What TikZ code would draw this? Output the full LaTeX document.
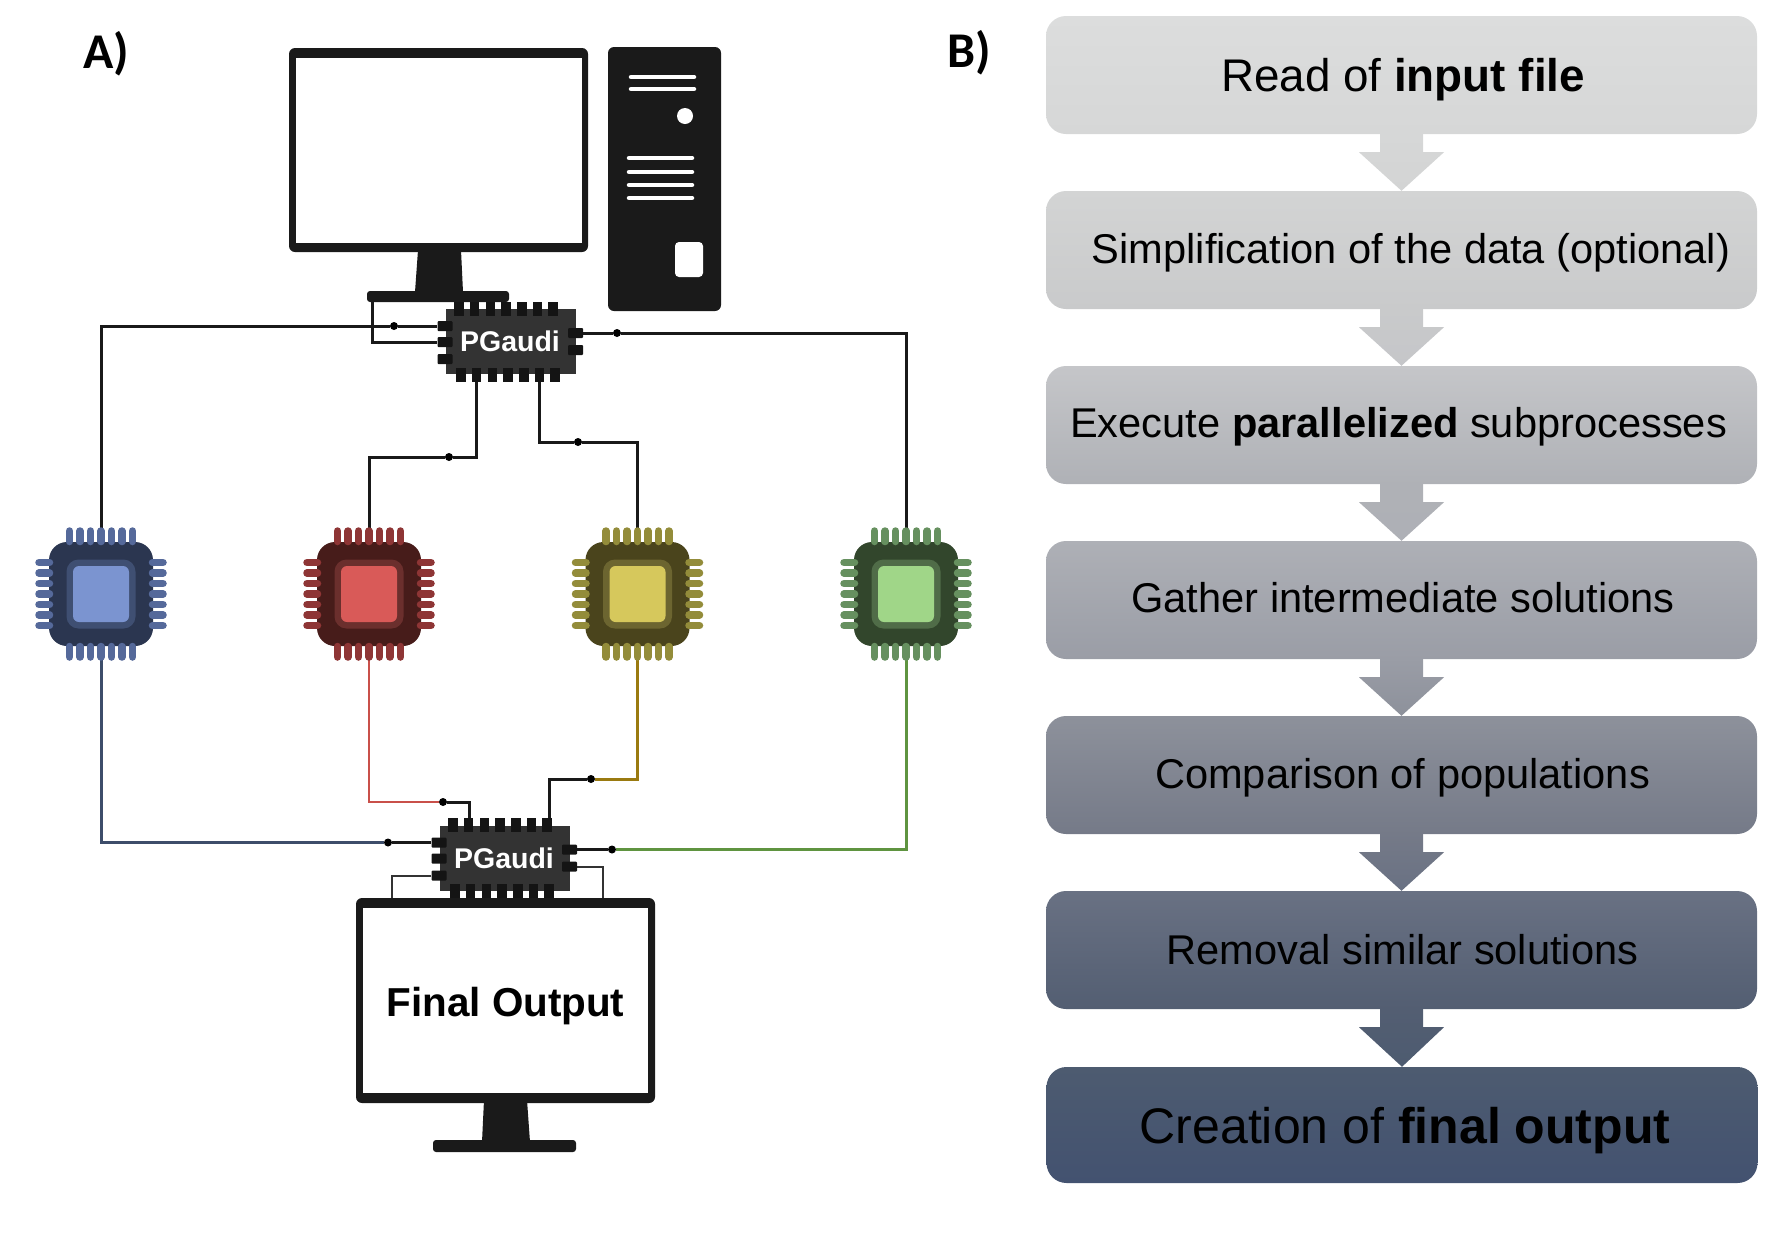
\documentclass[tikz,border=0pt]{standalone}
\usepackage{fontspec}
\setmainfont{Liberation Sans}
\newfontfamily\labelfont{Carlito}
\usetikzlibrary{calc,backgrounds}
\definecolor{screenblack}{HTML}{1A1A1A}
\definecolor{bluedark}{HTML}{2B3650}
\definecolor{bluemid}{HTML}{3F4F72}
\definecolor{bluepin}{HTML}{55699A}
\definecolor{bluelight}{HTML}{7B94D0}
\definecolor{reddark}{HTML}{471C1A}
\definecolor{redmid}{HTML}{6B2F2D}
\definecolor{redpin}{HTML}{8E3535}
\definecolor{redlight}{HTML}{D95A58}
\definecolor{yellowdark}{HTML}{4A441C}
\definecolor{yellowmid}{HTML}{6C6530}
\definecolor{yellowpin}{HTML}{938C3A}
\definecolor{yellowlight}{HTML}{D6C85C}
\definecolor{greendark}{HTML}{32462C}
\definecolor{greenmid}{HTML}{506C48}
\definecolor{greenpin}{HTML}{66905F}
\definecolor{greenlight}{HTML}{A0D688}
\definecolor{bluewire}{HTML}{3D4D6A}
\definecolor{redwire}{HTML}{C9504A}
\definecolor{yellowwire}{HTML}{9A7A10}
\definecolor{greenwire}{HTML}{5F9440}
\definecolor{readA}{HTML}{DCDDDD}\definecolor{readB}{HTML}{D6D7D7}
\definecolor{simpA}{HTML}{D3D4D4}\definecolor{simpB}{HTML}{C9CACB}
\definecolor{execA}{HTML}{C5C6C9}\definecolor{execB}{HTML}{AFB1B6}
\definecolor{gatherA}{HTML}{AEB0B6}\definecolor{gatherB}{HTML}{9A9DA6}
\definecolor{compA}{HTML}{8D919B}\definecolor{compB}{HTML}{757A88}
\definecolor{remoA}{HTML}{697183}\definecolor{remoB}{HTML}{535E72}
\definecolor{creaA}{HTML}{4D5B70}\definecolor{creaB}{HTML}{435270}
\tikzset{
	wire/.style={line width=3pt,color=black!90},
	thinwire/.style={line width=2pt,color=black!80},
	wiredot/.style={circle,fill=black,inner sep=0pt,minimum size=8pt},
	screen/.style={fill=screenblack,rounded corners=6pt,inner sep=0pt,minimum width=299pt},
	standbase/.style={fill=screenblack,rounded corners=3pt,inner sep=0pt},
	gaudibody/.style={fill=black!80,text=white,inner sep=0pt,minimum width=130pt,minimum height=65pt,font=\fontsize{28.5}{30}\selectfont\bfseries},
	gaudipinv/.style={fill=black!92,inner sep=0pt,minimum width=9.5pt,minimum height=14pt},
	gaudipinh/.style={fill=black!92,rounded corners=1pt,inner sep=0pt,minimum width=15pt,minimum height=10pt},
	cpubody/.style={rounded corners=18pt,inner sep=0pt,minimum size=104pt},
	cpupin/.style={line width=7.5pt,line cap=round},
	flowbox/.style={rounded corners=20pt,inner sep=0pt,minimum width=711pt,minimum height=118pt,text=black,text depth=0pt,font=\fontsize{41.6}{45}\selectfont},
}
\begin{document}
\begin{tikzpicture}[x=1pt,y=-1pt]
	\useasboundingbox (0,0) rectangle (1769,1232);
	\node [text height=32pt,text depth=0pt] (labela) at (106,52) {\labelfont\fontsize{50}{54}\selectfont\bfseries A)};
	\node [text height=32pt,text depth=0pt] (labelb) at (969,51) {\labelfont\fontsize{50}{54}\selectfont\bfseries B)};
	% top computer
	\node [screen,minimum height=204pt] (monin) at (438.5,150) {};
	\fill [white] (296,58) rectangle (582,243);
	\fill [screenblack] (418,250) -- (461,250) -- (463,292) -- (415,292) -- cycle;
	\node [standbase,minimum width=142pt,minimum height=11pt] (baseIn) at (438,296.5) {};
	\fill [screenblack,rounded corners=6pt] (608,47) rectangle (721,311);
	\foreach \y in {77,89} {
		\draw [white,line width=4.5pt,line cap=round] (631,\y) -- (694,\y);
	}
	\foreach \y in {158,172,185,198} {
		\draw [white,line width=4.5pt,line cap=round] (629,\y) -- (692,\y);
	}
	\fill [white] (685,116) circle (8);
	\fill [white,rounded corners=4pt] (675,242) rectangle (703,277);
	% bottom monitor
	\node [screen,minimum height=205pt] (monout) at (505.5,1000.5) {};
	\fill [white] (363,908) rectangle (648,1093);
	\node [inner sep=0pt,font=\fontsize{40.4}{44}\selectfont\bfseries,text height=31pt,text depth=0pt] (outtext) at (505.5,1000.5) {Final Output};
	\fill [screenblack] (484,1100) -- (527,1100) -- (530,1142) -- (482,1142) -- cycle;
	\node [standbase,minimum width=143pt,minimum height=12pt] (baseOut) at (504.5,1146) {};
	% the two PGaudi chips
	\foreach \pg/\px/\py in {pgtop/511/341.5,pgbot/505/858} {
		\node [gaudibody] (\pg) at (\px,\py) {\hspace*{-2pt}PGaudi};
		\foreach \i in {1,...,7} {
			\node [gaudipinv] (\pg t\i) at (\px-52+15.7*\i-15.7,\py-33) {};
			\node [gaudipinv] (\pg b\i) at (\px-50+15.7*\i-15.7,\py+33) {};
		}
		\node [gaudipinh] (\pg l1) at (\px-66,\py-15.5) {};
		\node [gaudipinh] (\pg l2) at (\px-66,\py+.5) {};
		\node [gaudipinh] (\pg l3) at (\px-66,\py+17.5) {};
		\node [gaudipinh] (\pg r1) at (\px+64.5,\py-8.5) {};
		\node [gaudipinh] (\pg r2) at (\px+64.5,\py+8.5) {};
	}
	% the four processors
	\foreach \chip/\cx in {blue/101,red/369,yellow/637.5,green/906} {
		\node [cpubody,fill=\chip dark] (\chip cpu) at (\cx,594) {};
		\fill [\chip mid,rounded corners=12pt] (\cx-34.5,594-34.5) rectangle (\cx+34.5,594+34.5);
		\fill [\chip light,rounded corners=6pt] (\cx-28,594-28) rectangle (\cx+28,594+28);
		\foreach \o in {-31.5,-21,-10.5,0,10.5,21,31.5} {
			\draw [cpupin,\chip pin] (\cx+\o,594-63) -- (\cx+\o,594-52.5);
			\draw [cpupin,\chip pin] (\cx+\o,594+63) -- (\cx+\o,594+52.5);
			\draw [cpupin,\chip pin] (\cx-62,594+\o) -- (\cx-51.5,594+\o);
			\draw [cpupin,\chip pin] (\cx+62,594+\o) -- (\cx+51.5,594+\o);
		}
	}
	\node [wiredot] (dotup1) at (394,326) {};
	\node [wiredot] (dotup2) at (449,457) {};
	\node [wiredot] (dotup3) at (578,442) {};
	\node [wiredot] (dotup4) at (617,333) {};
	\node [wiredot] (dotdn1) at (388,842.5) {};
	\node [wiredot] (dotdn2) at (443,802) {};
	\node [wiredot] (dotdn3) at (591,779) {};
	\node [wiredot] (dotdn4) at (612,849.5) {};
	\coordinate (basetap) at (372,300);
	\coordinate (montapl) at (392,898);
	\coordinate (montapr) at (603,898);
	\begin{pgfonlayer}{background}
		\draw [wire] (pgtopl1) -- (dotup1) -- (dotup1 -| bluecpu) -- (bluecpu);
		\draw [wire] (basetap) |- (pgtopl2);
		\draw [wire] (pgtopb2) |- (dotup2) -| (redcpu);
		\draw [wire] (pgtopb6) |- (dotup3) -| (yellowcpu);
		\draw [wire] (pgtopr1) -- (dotup4) -| (greencpu);
		\draw [wire,bluewire] (bluecpu) |- (dotdn1);
		\draw [wire] (dotdn1) -- (pgbotl1);
		\draw [wire,redwire,line width=2.4pt] (redcpu) |- (dotdn2);
		\draw [wire] (dotdn2) -| ([xshift=1pt]pgbott2.north);
		\draw [wire,yellowwire] (yellowcpu) |- (dotdn3);
		\draw [wire] (dotdn3) -| ([xshift=2.5pt]pgbott7.north);
		\draw [wire,greenwire] (greencpu) |- (dotdn4);
		\draw [wire] (dotdn4) -- (pgbotr1);
		\draw [thinwire] (pgbotl3) -| (montapl);
		\draw [thinwire] (pgbotr2) -| (montapr);
	\end{pgfonlayer}
	% flow chart
	\node [flowbox,top color=readA,bottom color=readB,text height=33pt,font=\fontsize{45.8}{48}\selectfont] (read) at (1401.5,75) {\hspace*{3pt}Read of \textbf{input file}};
	\node [flowbox,top color=simpA,bottom color=simpB,text height=27pt] (simp) at (1401.5,250) {\hspace*{19pt}Simplification of the data (optional)};
	\node [flowbox,top color=execA,bottom color=execB,text height=24.5pt] (exec) at (1401.5,425) {\hspace*{-6pt}Execute \textbf{parallelized} subprocesses};
	\node [flowbox,top color=gatherA,bottom color=gatherB,text height=24.5pt] (gather) at (1401.5,600) {\hspace*{3pt}Gather intermediate solutions};
	\node [flowbox,top color=compA,bottom color=compB,text height=27pt] (comp) at (1401.5,775) {\hspace*{2pt}Comparison of populations};
	\node [flowbox,top color=remoA,bottom color=remoB,text height=29pt] (remo) at (1401.5,950) {\hspace*{2pt}Removal similar solutions};
	\node [flowbox,top color=creaA,bottom color=creaB,minimum height=116pt,text height=36pt,font=\fontsize{50}{54}\selectfont] (crea) at (1402,1125) {\hspace*{6pt}Creation of \textbf{final output}};
	\foreach \a/\b/\ctop/\cbot in {read/simp/readB/simpA,simp/exec/simpB/execA,exec/gather/execB/gatherA,gather/comp/gatherB/compA,comp/remo/compB/remoA,remo/crea/remoB/creaA} {
		\shade [top color=\ctop,bottom color=\cbot] ($(\a.south)+(-21.5,-1)$) -- ++(43,0) -- ++(0,19) -- ++(21,0) -- (\b.north) -- ($(\a.south)+(-42.5,18)$) -- ++(21,0) -- cycle;
	}
\end{tikzpicture}
\end{document}
